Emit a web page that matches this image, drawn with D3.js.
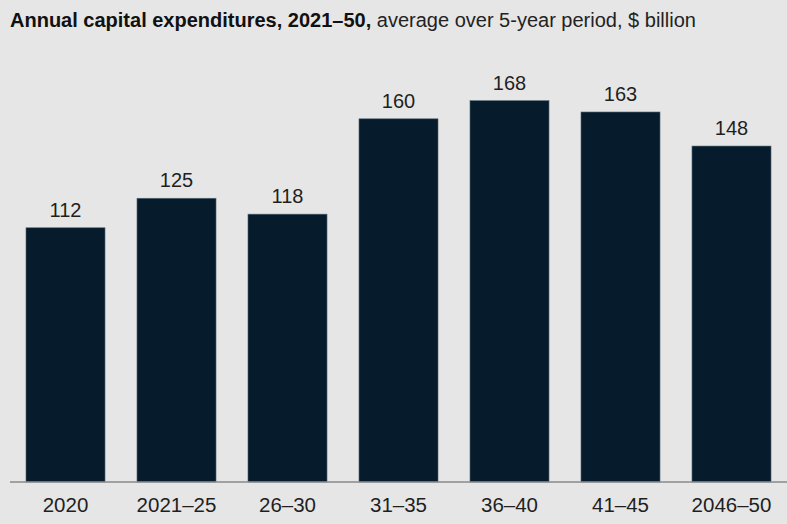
<!DOCTYPE html>
<html><head><meta charset="utf-8">
<script src="https://cdn.jsdelivr.net/npm/d3@7"></script>
<style>
html,body{margin:0;padding:0;background:#e6e6e6;}
svg{display:block;}
</style></head>
<body>
<svg id="chart" width="787" height="524"></svg>
<script>
const categories = ["2020","2021\u201325","26\u201330","31\u201335","36\u201340","41\u201345","2046\u201350"];
const values = [112,125,118,160,168,163,148];
const titleBold = "Annual capital expenditures, 2021\u201350,";
const titleRest = " average over 5-year period, $ billion";

const W = 787, H = 524;
const svg = d3.select("#chart");
svg.append("rect").attr("width",W).attr("height",H).attr("fill","#e6e6e6");

const font = "'Liberation Sans', Arial, sans-serif";
const baseY = 482;
const x = d3.scaleBand().domain(categories).range([10,787]).paddingInner(0.288).paddingOuter(0.144);
const y = d3.scaleLinear().domain([0,200]).range([baseY, baseY-454]);

const t = svg.append("text").attr("x",10).attr("y",27).attr("font-family",font).attr("font-size",20).attr("fill","#111");
t.append("tspan").attr("font-weight","bold").text(titleBold);
t.append("tspan").attr("fill","#222").text(titleRest);

svg.append("g").selectAll("rect").data(values).join("rect")
  .attr("x",(d,i)=>x(categories[i]))
  .attr("y",d=>y(d))
  .attr("width",x.bandwidth())
  .attr("height",d=>y(0)-y(d))
  .attr("fill","#061c2c")
  .attr("stroke","#5a6b78").attr("stroke-width",0.6);

svg.append("g").selectAll("text").data(values).join("text")
  .attr("x",(d,i)=>x(categories[i])+x.bandwidth()/2)
  .attr("y",d=>y(d)-11)
  .attr("text-anchor","middle")
  .attr("font-family",font).attr("font-size",20).attr("fill","#1f1f1f")
  .text(d=>d);

const axis = d3.axisBottom(x).tickSize(0).tickPadding(15);
const g = svg.append("g").attr("transform",`translate(0,${baseY})`).call(axis);
g.select(".domain").attr("stroke","#8a8a8a").attr("stroke-width",1.5).attr("d","M10,0H787");
g.selectAll("text").attr("font-family",font).attr("font-size",20.5).attr("fill","#1f1f1f")
  .attr("dy",null).attr("y",29.7);
</script>
</body></html>
